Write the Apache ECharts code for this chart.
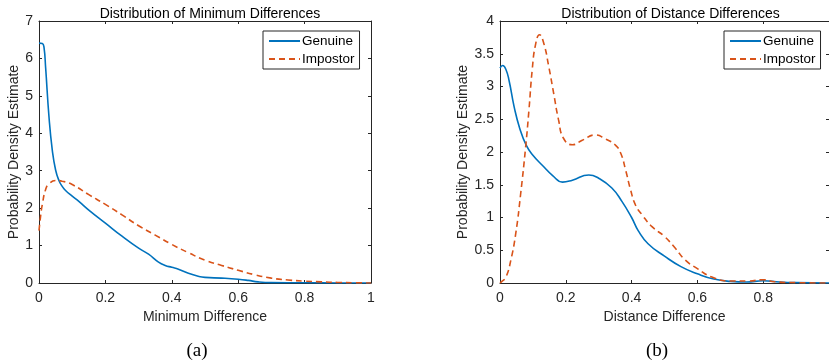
<!doctype html>
<html lang="en">
<head>
<meta charset="utf-8"/>
<title>Distribution of differences</title>
<style>
  html, body { margin: 0; padding: 0; background: #fff; }
  #chart { width: 829px; height: 363px; }
</style>
</head>
<body>
<div id="chart"></div>
<script src="https://cdn.jsdelivr.net/npm/echarts@6/dist/echarts.min.js"></script>
<script>
// values, [x, density]
const minDiffGenuine = [[0,6.41],[0.01,6.4],[0.015,6.3],[0.02,5.75],[0.03,4.45],[0.04,3.55],[0.05,3.02],[0.06,2.74],[0.07,2.58],[0.08,2.47],[0.1,2.32],[0.12,2.18],[0.15,1.95],[0.2,1.6],[0.25,1.25],[0.3,0.93],[0.33,0.77],[0.36,0.56],[0.38,0.47],[0.4,0.42],[0.42,0.37],[0.45,0.26],[0.48,0.18],[0.5,0.15],[0.55,0.13],[0.6,0.1],[0.63,0.07],[0.66,0.03],[0.7,0.01],[0.8,0.005],[0.9,0.002],[1,0]];
const minDiffImpostor = [[0,1.4],[0.005,1.8],[0.01,2.1],[0.02,2.5],[0.03,2.65],[0.05,2.74],[0.07,2.72],[0.1,2.63],[0.15,2.36],[0.2,2.1],[0.25,1.82],[0.3,1.53],[0.35,1.28],[0.4,1.03],[0.45,0.81],[0.5,0.61],[0.55,0.47],[0.6,0.34],[0.65,0.22],[0.7,0.13],[0.75,0.08],[0.8,0.05],[0.85,0.03],[0.9,0.015],[0.95,0.005],[1,0]];
const distGenuine = [[0,3.28],[0.008,3.32],[0.018,3.26],[0.028,3.08],[0.043,2.69],[0.06,2.36],[0.08,2.1],[0.1,1.95],[0.13,1.79],[0.16,1.64],[0.19,1.54],[0.22,1.57],[0.27,1.65],[0.3,1.6],[0.34,1.45],[0.37,1.25],[0.4,1.0],[0.42,0.8],[0.45,0.6],[0.5,0.41],[0.55,0.25],[0.6,0.14],[0.65,0.06],[0.7,0.025],[0.75,0.015],[0.8,0.035],[0.85,0.015],[0.9,0.005],[1,0]];
const distImpostor = [[0,0],[0.005,0.02],[0.018,0.09],[0.033,0.35],[0.048,0.76],[0.063,1.37],[0.078,2.08],[0.088,2.64],[0.098,3.26],[0.108,3.64],[0.12,3.79],[0.133,3.66],[0.148,3.31],[0.163,2.9],[0.178,2.49],[0.193,2.21],[0.22,2.11],[0.25,2.18],[0.29,2.26],[0.32,2.2],[0.35,2.11],[0.367,1.98],[0.382,1.72],[0.397,1.42],[0.412,1.19],[0.432,1.04],[0.462,0.86],[0.5,0.71],[0.533,0.53],[0.563,0.35],[0.6,0.22],[0.644,0.09],[0.7,0.03],[0.755,0.03],[0.8,0.05],[0.835,0.02],[0.9,0.005],[1,0]];

const titles = ["Distribution of Minimum Differences", "Distribution of Distance Differences"];
const xNames = ["Minimum Difference", "Distance Difference"];
const yName = "Probability Density Estimate";
const seriesNames = ["Genuine", "Impostor"];
const panelLabels = ["(a)", "(b)"];

const FONT = "'Liberation Sans', Arial, Helvetica, sans-serif";
const AX = "#262626";
const BLUE = "#0072BD", ORANGE = "#D95319";

const grids = [
  { left: 39, top: 21, width: 332, height: 262 },
  { left: 500, top: 21, width: 331, height: 262 },
];
const yMax = [7, 4], yStep = [1, 0.5];
const yNameGap = [17, 28];

const xAxis = [], yAxis = [];
grids.forEach((g, i) => {
  xAxis.push({
    type: "value", gridIndex: i, min: 0, max: 1, interval: 0.2,
    name: xNames[i], nameLocation: "middle", nameGap: 23,
    nameTextStyle: { fontFamily: FONT, fontSize: 14, color: AX },
    axisLine: { lineStyle: { color: AX, width: 1 } },
    axisTick: { inside: true, length: 3, lineStyle: { color: AX } },
    axisLabel: { fontFamily: FONT, fontSize: 14, color: AX, margin: 8, showMaxLabel: i === 0 },
    splitLine: { show: false },
  });
  xAxis.push({
    type: "value", gridIndex: i, min: 0, max: 1, interval: 0.2, position: "top",
    axisLine: { onZero: false, lineStyle: { color: AX, width: 1 } },
    axisTick: { inside: true, length: 3, lineStyle: { color: AX } },
    axisLabel: { show: false }, splitLine: { show: false },
  });
  yAxis.push({
    type: "value", gridIndex: i, min: 0, max: yMax[i], interval: yStep[i],
    name: yName, nameLocation: "middle", nameGap: yNameGap[i],
    nameTextStyle: { fontFamily: FONT, fontSize: 14, color: AX },
    axisLine: { show: true, lineStyle: { color: AX, width: 1 } },
    axisTick: { show: true, inside: true, length: 3, lineStyle: { color: AX } },
    axisLabel: { fontFamily: FONT, fontSize: 14, color: AX, margin: 6 },
    splitLine: { show: false },
  });
  yAxis.push({
    type: "value", gridIndex: i, min: 0, max: yMax[i], interval: yStep[i], position: "right",
    axisLine: { show: true, onZero: false, lineStyle: { color: AX, width: 1 } },
    axisTick: { show: true, inside: true, length: 3, lineStyle: { color: AX } },
    axisLabel: { show: false }, splitLine: { show: false },
  });
});

function line(name, data, panel, color, dashed) {
  return {
    name, type: "line", data,
    xAxisIndex: panel * 2, yAxisIndex: panel * 2,
    smooth: 0.5,
    showSymbol: false, symbol: "none",
    lineStyle: { color, width: 1.6, type: dashed ? [6, 4] : "solid" },
    itemStyle: { color },
    animation: false,
  };
}

const legendBase = {
  orient: "vertical", top: 31, itemWidth: 31, itemHeight: 14, itemGap: 4,
  padding: [3, 5, 3, 5],
  borderColor: AX, borderWidth: 1, backgroundColor: "#fff",
  itemStyle: { opacity: 0 },
  textStyle: { fontFamily: FONT, fontSize: 13.5, color: "#000", padding: [0, 0, 0, -3] },
  data: seriesNames, selectedMode: false,
};

const option = {
  animation: false,
  backgroundColor: "#fff",
  title: grids.map((g, i) => ({
    text: titles[i], left: g.left + g.width / 2, top: 2, textAlign: "center",
    textStyle: { fontFamily: FONT, fontSize: 14, fontWeight: "normal", color: "#000" },
  })),
  legend: [
    Object.assign({}, legendBase, { left: 263 }),
    Object.assign({}, legendBase, { left: 724 }),
  ],
  grid: grids,
  xAxis, yAxis,
  series: [
    line(seriesNames[0], minDiffGenuine, 0, BLUE, false),
    line(seriesNames[1], minDiffImpostor, 0, ORANGE, true),
    line(seriesNames[0], distGenuine, 1, BLUE, false),
    line(seriesNames[1], distImpostor, 1, ORANGE, true),
  ],
  graphic: panelLabels.map((t, i) => ({
    type: "text", x: [197, 657][i], y: 351,
    style: { text: t, fontFamily: "'Liberation Serif', 'Times New Roman', serif", fontSize: 19,
             fill: "#000", align: "center", verticalAlign: "middle" },
  })),
};

const chart = echarts.init(document.getElementById("chart"), null, { renderer: "canvas" });
chart.setOption(option);
</script>
</body>
</html>
